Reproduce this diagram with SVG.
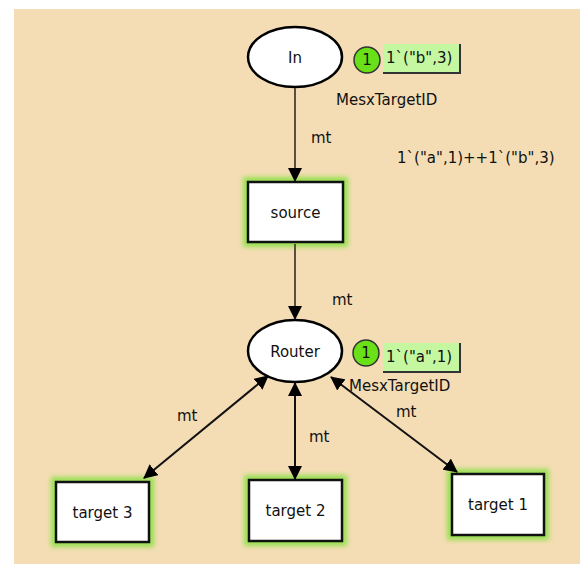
<svg xmlns="http://www.w3.org/2000/svg" width="580" height="564" viewBox="0 0 580 564">
<style>
text{font-family:"DejaVu Sans","Liberation Sans",sans-serif;font-size:15px;fill:#111}
.place{fill:#fff;stroke:#000;stroke-width:2.5}
.trans{fill:#fff;stroke:#111;stroke-width:2.5}
.glow{fill:none;stroke:#95e050;stroke-width:10;filter:url(#blur)}
.arc{stroke:#111;stroke-width:2;fill:none}
.arcg{stroke:#5a4e3c;stroke-width:2;fill:none}
.tok{fill:#6ae018;stroke:#333;stroke-width:1.5}
.mark{fill:#c4f7a0}
.shadow{stroke:#333;stroke-width:2;fill:none}
</style>
<defs>
<filter id="blur" x="-20%" y="-20%" width="140%" height="140%"><feGaussianBlur stdDeviation="2.5"/></filter>
<marker id="ah" viewBox="0 0 14 14" refX="13" refY="7" markerWidth="14" markerHeight="14" markerUnits="userSpaceOnUse" orient="auto-start-reverse">
<path d="M0,0 L14,7 L0,14 z" fill="#000"/>
</marker>
</defs>
<rect x="14" y="9" width="566" height="555" fill="#f4ddb4"/>
<g id="In">
<ellipse class="place" cx="295" cy="57" rx="47" ry="30"/>
<text x="295" y="63" text-anchor="middle">In</text>
<circle class="tok" cx="367" cy="60" r="13"/>
<text x="367" y="65" text-anchor="middle">1</text>
<rect class="mark" x="383" y="44" width="77" height="29"/>
<polyline class="shadow" points="460,44 460,73 383,73"/>
<text x="386" y="63">1`("b",3)</text>
<text x="336" y="105">MesxTargetID</text>
<text x="397" y="163">1`("a",1)++1`("b",3)</text>
</g>
<g id="source">
<rect class="glow" x="248" y="182" width="95" height="60"/>
<rect class="trans" x="248" y="182" width="95" height="60"/>
<text x="295.5" y="218" text-anchor="middle">source</text>
</g>
<g id="Router">
<ellipse class="place" cx="295" cy="351" rx="47" ry="31"/>
<text x="295" y="357" text-anchor="middle">Router</text>
<circle class="tok" cx="366" cy="353" r="13"/>
<text x="366" y="358" text-anchor="middle">1</text>
<rect class="mark" x="383" y="343" width="77" height="29"/>
<polyline class="shadow" points="460,343 460,372 383,372"/>
<text x="386" y="362">1`("a",1)</text>
<text x="349" y="391">MesxTargetID</text>
</g>
<g id="target3">
<rect class="glow" x="56" y="482" width="93" height="60"/>
<rect class="trans" x="56" y="482" width="93" height="60"/>
<text x="102.5" y="518" text-anchor="middle">target 3</text>
</g>
<g id="target2">
<rect class="glow" x="249" y="480" width="93" height="61"/>
<rect class="trans" x="249" y="480" width="93" height="61"/>
<text x="295.5" y="516" text-anchor="middle">target 2</text>
</g>
<g id="target1">
<rect class="glow" x="452" y="474" width="92" height="61"/>
<rect class="trans" x="452" y="474" width="92" height="61"/>
<text x="498" y="510" text-anchor="middle">target 1</text>
</g>
<g id="connectors">
<line class="arcg" x1="295" y1="88" x2="295" y2="181" marker-end="url(#ah)"/>
<line class="arcg" x1="295" y1="244" x2="295" y2="319" marker-end="url(#ah)"/>
<line class="arc" x1="268" y1="376" x2="144" y2="478" marker-start="url(#ah)" marker-end="url(#ah)"/>
<line class="arc" x1="295" y1="383" x2="295" y2="479" marker-start="url(#ah)" marker-end="url(#ah)"/>
<line class="arc" x1="331" y1="377" x2="457" y2="472" marker-start="url(#ah)" marker-end="url(#ah)"/>
<text x="311" y="143">mt</text>
<text x="332" y="305">mt</text>
<text x="177" y="421">mt</text>
<text x="309" y="442">mt</text>
<text x="396" y="417">mt</text>
</g>
</svg>
